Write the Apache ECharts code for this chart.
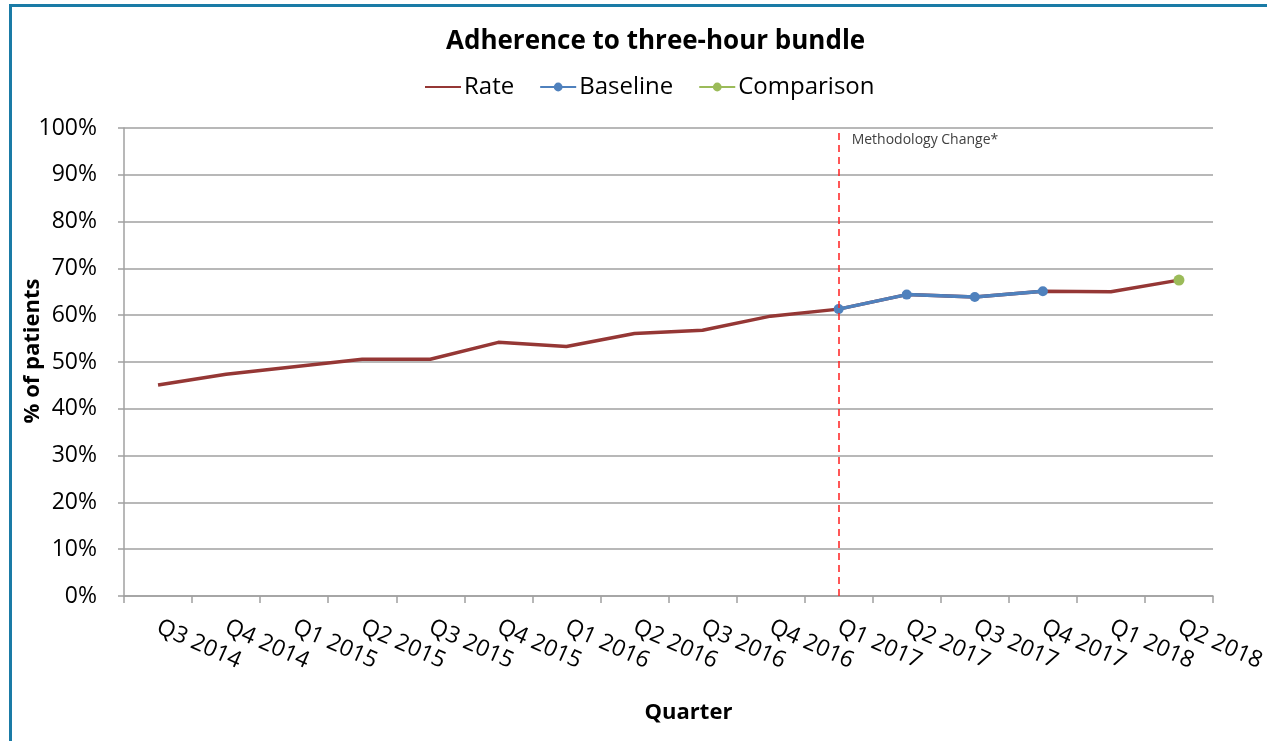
<!DOCTYPE html>
<html>
<head>
<meta charset="utf-8">
<script src="https://cdn.jsdelivr.net/npm/echarts@6/dist/echarts.min.js"></script>
<style>
html,body{margin:0;padding:0;background:#fff;}
#frame{position:absolute;left:9px;top:4px;width:1258px;height:737px;border-left:3px solid #1a7ba6;border-top:3px solid #1a7ba6;box-sizing:border-box;}
#chart{position:absolute;left:0;top:0;width:1267px;height:741px;}
</style>
</head>
<body>
<div id="frame"></div>
<div id="chart"></div>
<script>
const categories = ['Q3 2014','Q4 2014','Q1 2015','Q2 2015','Q3 2015','Q4 2015','Q1 2016','Q2 2016','Q3 2016','Q4 2016','Q1 2017','Q2 2017','Q3 2017','Q4 2017','Q1 2018','Q2 2018'];
const rateValues = [45.1, 47.4, 49.0, 50.6, 50.6, 54.2, 53.3, 56.1, 56.8, 59.8, 61.3, 64.4, 63.9, 65.1, 65.0, 67.5];
const baselineValues = [null, null, null, null, null, null, null, null, null, null, 61.3, 64.4, 63.9, 65.1, null, null];
const comparisonValues = [null, null, null, null, null, null, null, null, null, null, null, null, null, null, null, 67.5];
const methodologyChangeAt = 'Q1 2017';
const annotationText = 'Methodology Change*';

const FONT = 'Open Sans';
const chart = echarts.init(document.getElementById('chart'), null, {renderer: 'canvas'});
const option = {
  backgroundColor: 'transparent',
  animation: false,
  title: {
    text: 'Adherence to three-hour bundle',
    left: 441,
    top: 24,
    textStyle: {fontFamily: FONT, fontWeight: 'bold', fontSize: 26, color: '#000'}
  },
  legend: {
    top: 70,
    left: 419,
    itemWidth: 36,
    itemHeight: 11,
    itemGap: 25,
    textStyle: {fontFamily: FONT, fontSize: 24, color: '#000', padding: [0, 0, 0, -2]},
    data: [
      {name: 'Rate', itemStyle: {opacity: 0}},
      {name: 'Baseline'},
      {name: 'Comparison'}
    ]
  },
  grid: {left: 124, right: 54, top: 128, bottom: 145, containLabel: false, outerBoundsMode: 'none'},
  xAxis: {
    type: 'category',
    data: categories,
    boundaryGap: true,
    name: 'Quarter',
    nameLocation: 'middle',
    nameGap: 106,
    nameMoveOverlap: false,
    nameTextStyle: {fontFamily: FONT, fontWeight: 'bold', fontSize: 22, color: '#000', padding: [0, 0, 0, 40]},
    axisLine: {lineStyle: {color: '#a0a0a0', width: 1.5}},
    axisTick: {show: true, interval: 0, length: 7, lineStyle: {color: '#a0a0a0', width: 1.5}},
    axisLabel: {interval: 0, rotate: -24, margin: 30, fontFamily: FONT, fontSize: 23, color: '#000'}
  },
  yAxis: {
    type: 'value',
    min: 0, max: 100, interval: 10,
    name: '% of patients',
    nameLocation: 'middle',
    nameGap: 80,
    nameMoveOverlap: false,
    nameTextStyle: {fontFamily: FONT, fontWeight: 'bold', fontSize: 22, color: '#000', padding: [0, 0, 0, 22]},
    axisLine: {show: true, lineStyle: {color: '#a0a0a0', width: 1.5}},
    axisTick: {show: true, length: 6, lineStyle: {color: '#a0a0a0', width: 1.5}},
    axisLabel: {formatter: '{value}%', margin: 27, fontFamily: FONT, fontSize: 23, color: '#000'},
    splitLine: {lineStyle: {color: '#a0a0a0', width: 1.5}}
  },
  series: [
    {
      name: 'Rate', type: 'line', data: rateValues,
      symbol: 'none', color: '#953735',
      lineStyle: {width: 3.5, color: '#953735'},
      z: 2,
      markLine: {
        silent: true, symbol: 'none',
        data: [{xAxis: methodologyChangeAt}],
        lineStyle: {color: '#ff2020', type: [7, 5], width: 1.5},
        label: {show: false}
      }
    },
    {
      name: 'Baseline', type: 'line', data: baselineValues,
      symbol: 'circle', symbolSize: 10, color: '#4f81bd',
      lineStyle: {width: 3.5, color: '#4f81bd'},
      itemStyle: {color: '#4f81bd'},
      z: 3
    },
    {
      name: 'Comparison', type: 'line', data: comparisonValues,
      symbol: 'circle', symbolSize: 11, color: '#9bbb59',
      lineStyle: {width: 3.5, color: '#9bbb59'},
      itemStyle: {color: '#9bbb59'},
      z: 4
    }
  ]
};
chart.setOption(option);
const px = chart.convertToPixel({xAxisIndex: 0}, methodologyChangeAt);
const py = chart.convertToPixel({yAxisIndex: 0}, 100);
chart.setOption({
  graphic: [{
    type: 'text', left: px + 13, top: py + 5, silent: true,
    style: {text: annotationText, fontFamily: FONT, fontSize: 14, fill: '#404040'}
  }]
});
</script>
</body>
</html>
